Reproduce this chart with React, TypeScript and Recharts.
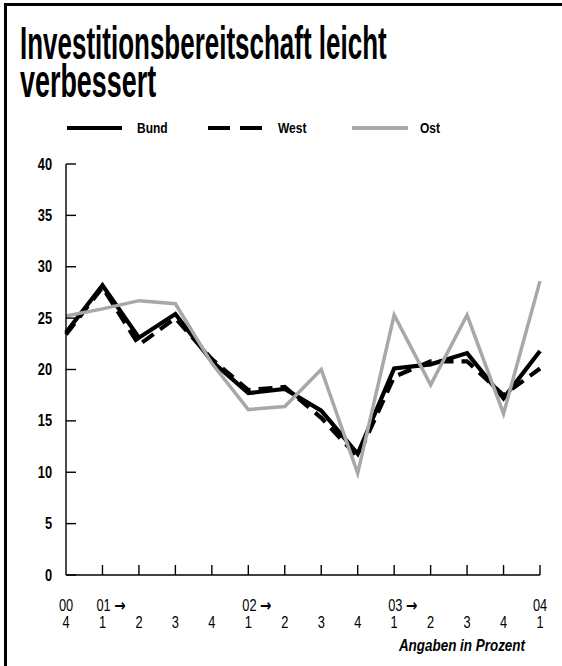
import React from "react";
import { LineChart, Line, XAxis, YAxis } from "recharts";

const categories = ["00/4","01/1","01/2","01/3","01/4","02/1","02/2","02/3","02/4","03/1","03/2","03/3","03/4","04/1"];
const bund = [23.6, 28.2, 23.1, 25.4, 20.8, 17.7, 18.1, 16.0, 11.8, 20.1, 20.5, 21.6, 17.2, 21.8];
const west = [23.4, 28.0, 22.4, 25.0, 21.0, 18.0, 18.3, 15.3, 11.5, 19.3, 20.8, 20.8, 17.5, 20.1];
const ost = [25.2, 25.9, 26.7, 26.4, 20.6, 16.1, 16.4, 20.0, 9.9, 25.3, 18.5, 25.3, 15.7, 28.6];
const yearLabels = ["00", "01", "", "", "", "02", "", "", "", "03", "", "", "", "04"];
const yearArrow = [false, true, false, false, false, true, false, false, false, true, false, false, false, false];
const quarterLabels = ["4","1","2","3","4","1","2","3","4","1","2","3","4","1"];
const yTicks = [0, 5, 10, 15, 20, 25, 30, 35, 40];

const data = categories.map((c, i) => ({ cat: c, Bund: bund[i], West: west[i], Ost: ost[i] }));

const FONT = "'Liberation Sans', Arial, Helvetica, sans-serif";

const NText = (p: any) => {
  const { x, y, anchor = "start", size = 15, bold = false, italic = false, sx = 0.8, children } = p;
  return (
    <text
      transform={`translate(${x} ${y}) scale(${sx} 1)`}
      textAnchor={anchor}
      fontFamily={FONT}
      fontWeight={bold ? "bold" : "normal"}
      fontStyle={italic ? "italic" : "normal"}
      fontSize={size}
      fill="#000"
    >
      {children}
    </text>
  );
};

const YTick = (props: any) => {
  const { x, y, payload } = props;
  return (
    <g>
      <line x1={x} y1={y} x2={x + 10} y2={y} stroke="#000" strokeWidth={1.4} />
      <NText x={x - 14} y={y + 5.5} anchor="end" size={16} bold>
        {payload.value}
      </NText>
    </g>
  );
};

const XTick = (props: any) => {
  const { x, y, index } = props;
  const yl = yearLabels[index];
  const arrow = yearArrow[index];
  return (
    <g>
      {index > 0 && <line x1={x} y1={y} x2={x} y2={y - 10} stroke="#000" strokeWidth={1.4} />}
      {yl &&
        (arrow ? (
          <NText x={x - 6} y={y + 36} size={16}>
            {yl + " "}
            <tspan fontSize={17} fontWeight="bold" fontFamily="'DejaVu Sans', sans-serif">{"\u2192"}</tspan>
          </NText>
        ) : (
          <NText x={x} y={y + 36} anchor="middle" size={16}>
            {yl}
          </NText>
        ))}
      <NText x={x} y={y + 53} anchor="middle" size={16}>
        {quarterLabels[index]}
      </NText>
    </g>
  );
};

export default function App() {
  return (
    <div style={{ position: "absolute", left: 0, top: 0, width: 562, height: 666, background: "#fff", overflow: "hidden" }}>
      <div style={{ position: "absolute", left: 4, top: 3, width: 600, height: 700, borderLeft: "3px solid #000", borderTop: "3px solid #000", boxSizing: "border-box" }} />
      <svg width={562} height={150} style={{ position: "absolute", left: 0, top: 0 }}>
        <NText x={20} y={59} size={46} bold sx={0.565}>
          Investitionsbereitschaft leicht
        </NText>
        <NText x={20} y={97} size={46} bold sx={0.585}>
          verbessert
        </NText>
        <line x1={67} y1={128} x2={122} y2={128} stroke="#000" strokeWidth={4} />
        <NText x={137} y={133} size={15} bold>Bund</NText>
        <line x1={208} y1={128} x2={262} y2={128} stroke="#000" strokeWidth={4} strokeDasharray="22 10" />
        <NText x={278} y={133} size={15} bold>West</NText>
        <line x1={352} y1={128} x2={408} y2={128} stroke="#a8a8a8" strokeWidth={4} />
        <NText x={420} y={133} size={15} bold>Ost</NText>
      </svg>
      <div style={{ position: "absolute", left: 0, top: 0 }}>
        <LineChart width={562} height={666} data={data} margin={{ top: 164, right: 22, bottom: 90, left: 65 }}>
          <XAxis
            dataKey="cat"
            height={1}
            tickSize={0}
            tickMargin={0}
            tickLine={false}
            interval={0}
            axisLine={{ stroke: "#000", strokeWidth: 1.4 }}
            tick={<XTick />}
            padding={{ left: 0, right: 0 }}
          />
          <YAxis
            width={1}
            domain={[0, 40]}
            ticks={yTicks}
            tickSize={0}
            tickMargin={0}
            tickLine={false}
            interval={0}
            axisLine={{ stroke: "#000", strokeWidth: 1.4 }}
            tick={<YTick />}
          />
          <Line dataKey="Bund" stroke="#000" strokeWidth={4.2} dot={false} isAnimationActive={false} strokeLinejoin="miter" />
          <Line dataKey="West" stroke="#000" strokeWidth={4.2} strokeDasharray="14 8" dot={false} isAnimationActive={false} strokeLinejoin="miter" />
          <Line dataKey="Ost" stroke="#a8a8a8" strokeWidth={3.5} dot={false} isAnimationActive={false} strokeLinejoin="miter" />
        </LineChart>
      </div>
      <svg width={562} height={30} style={{ position: "absolute", left: 0, top: 630 }}>
        <NText x={525} y={21} anchor="end" size={16} bold italic sx={0.84}>
          Angaben in Prozent
        </NText>
      </svg>
    </div>
  );
}
